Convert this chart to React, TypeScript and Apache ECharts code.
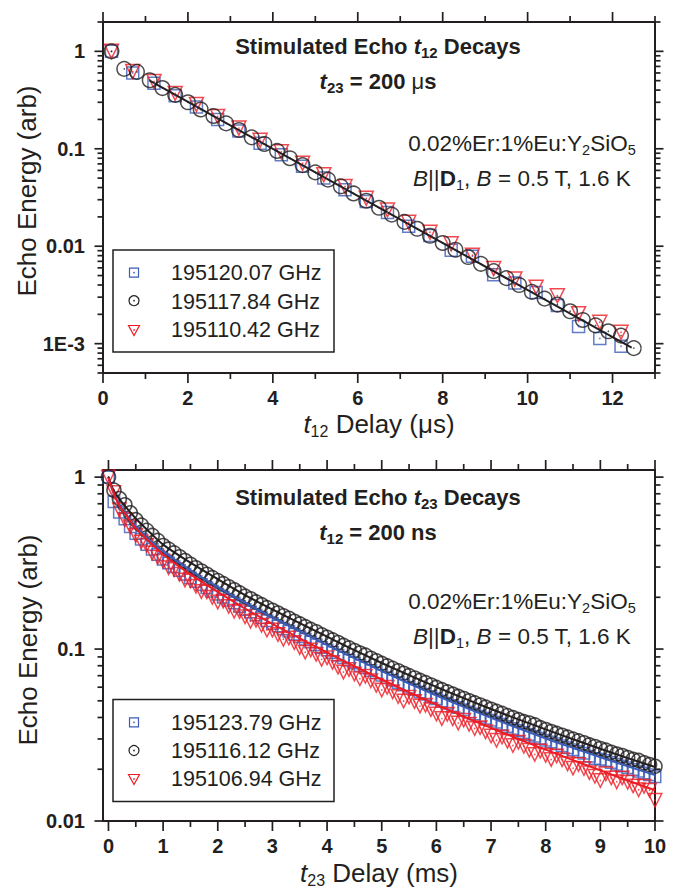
import React, { useEffect, useRef } from 'react';
import * as echarts from 'echarts';

// ---- upper panel: echo energy vs t12 delay (us), t23 = 200 us ----
const t12Circle = [0.2, 0.5, 0.8, 1.1, 1.4, 1.7, 2.0, 2.3, 2.6, 2.9, 3.2, 3.5, 3.8, 4.1, 4.4, 4.7, 5.0, 5.3, 5.6, 5.9, 6.2, 6.5, 6.8, 7.1, 7.4, 7.7, 8.0, 8.3, 8.6, 8.9, 9.2, 9.5, 9.8, 10.1, 10.4, 10.7, 11.0, 11.3, 11.6, 11.9, 12.2, 12.5];
const e12Circle = [1.0, 0.66, 0.615, 0.505, 0.42, 0.358, 0.30, 0.253, 0.217, 0.182, 0.156, 0.131, 0.112, 0.095, 0.080, 0.068, 0.0572, 0.0482, 0.0412, 0.0348, 0.0293, 0.0248, 0.0211, 0.0178, 0.0151, 0.0128, 0.0108, 0.0092, 0.00775, 0.0066, 0.00555, 0.0047, 0.0040, 0.0034, 0.0029, 0.00252, 0.00215, 0.00175, 0.00154, 0.00134, 0.00121, 0.00090];
const t12SqTri = [0.2, 0.7, 1.2, 1.7, 2.2, 2.7, 3.2, 3.7, 4.2, 4.7, 5.2, 5.7, 6.2, 6.7, 7.2, 7.7, 8.2, 8.7, 9.2, 9.7, 10.2, 10.7, 11.2, 11.7, 12.2];
const e12Square = [1.0, 0.60, 0.47, 0.35, 0.268, 0.20, 0.152, 0.114, 0.087, 0.066, 0.050, 0.038, 0.0288, 0.0222, 0.0160, 0.0129, 0.0091, 0.0079, 0.0051, 0.0042, 0.00335, 0.00247, 0.00150, 0.00113, 0.00094];
const e12Triangle = [1.0, 0.62, 0.49, 0.37, 0.285, 0.215, 0.163, 0.122, 0.093, 0.071, 0.054, 0.041, 0.031, 0.0236, 0.0176, 0.0139, 0.0106, 0.0081, 0.0059, 0.0046, 0.0038, 0.0031, 0.00203, 0.00166, 0.00131];
const fit12T = [1.1, 12.45];
const fit12E = [0.50, 0.00091];
const legend12 = ['195120.07 GHz', '195117.84 GHz', '195110.42 GHz'];

// ---- lower panel: echo energy vs t23 delay (ms), t12 = 200 ns ----
const t23 = [
  0, 0.1, 0.2, 0.3, 0.4, 0.5, 0.6, 0.7, 0.8, 0.9,
  1.0, 1.1, 1.2, 1.3, 1.4, 1.5, 1.6, 1.7, 1.8, 1.9,
  2.0, 2.1, 2.2, 2.3, 2.4, 2.5, 2.6, 2.7, 2.8, 2.9,
  3.0, 3.1, 3.2, 3.3, 3.4, 3.5, 3.6, 3.7, 3.8, 3.9,
  4.0, 4.1, 4.2, 4.3, 4.4, 4.5, 4.6, 4.7, 4.8, 4.9,
  5.0, 5.1, 5.2, 5.3, 5.4, 5.5, 5.6, 5.7, 5.8, 5.9,
  6.0, 6.1, 6.2, 6.3, 6.4, 6.5, 6.6, 6.7, 6.8, 6.9,
  7.0, 7.1, 7.2, 7.3, 7.4, 7.5, 7.6, 7.7, 7.8, 7.9,
  8.0, 8.1, 8.2, 8.3, 8.4, 8.5, 8.6, 8.7, 8.8, 8.9,
  9.0, 9.1, 9.2, 9.3, 9.4, 9.5, 9.6, 9.7, 9.8, 9.9,
  10.0,
];
const e23Circle = [
  1.0, 0.84, 0.75, 0.69, 0.62, 0.565, 0.525, 0.49, 0.458, 0.428,
  0.40, 0.381, 0.362, 0.344, 0.327, 0.311, 0.297, 0.284, 0.272, 0.260,
  0.250, 0.240, 0.230, 0.221, 0.212, 0.203, 0.196, 0.188, 0.181, 0.174,
  0.168, 0.162, 0.156, 0.151, 0.145, 0.140, 0.135, 0.130, 0.126, 0.121,
  0.117, 0.113, 0.109, 0.105, 0.1015, 0.098, 0.0947, 0.0921, 0.0884, 0.0854,
  0.0825, 0.0798, 0.0772, 0.0747, 0.0723, 0.0700, 0.0678, 0.0657, 0.0637, 0.0617,
  0.0598, 0.0580, 0.0563, 0.0546, 0.0530, 0.0515, 0.0500, 0.0486, 0.0472, 0.0459,
  0.0446, 0.0434, 0.0422, 0.0410, 0.0399, 0.0388, 0.0378, 0.0371, 0.0362, 0.0349,
  0.0340, 0.0331, 0.0323, 0.0315, 0.0307, 0.0299, 0.0292, 0.0285, 0.0277, 0.0271,
  0.0264, 0.0258, 0.0251, 0.0245, 0.0240, 0.0234, 0.0228, 0.0225, 0.0218, 0.0213,
  0.0208,
];
const e23Square = [
  1.0, 0.72, 0.625, 0.57, 0.515, 0.47, 0.435, 0.405, 0.38, 0.355,
  0.333, 0.317, 0.301, 0.286, 0.272, 0.259, 0.247, 0.237, 0.227, 0.217,
  0.208, 0.200, 0.192, 0.185, 0.177, 0.170, 0.164, 0.158, 0.152, 0.146,
  0.141, 0.136, 0.131, 0.127, 0.122, 0.118, 0.114, 0.110, 0.106, 0.102,
  0.0988, 0.0955, 0.0921, 0.0889, 0.0860, 0.0831, 0.0803, 0.0778, 0.0751, 0.0727,
  0.0703, 0.0680, 0.0659, 0.0638, 0.0618, 0.0599, 0.0581, 0.0563, 0.0546, 0.0530,
  0.0514, 0.0499, 0.0484, 0.0470, 0.0457, 0.0444, 0.0431, 0.0419, 0.0407, 0.0396,
  0.0385, 0.0375, 0.0365, 0.0355, 0.0345, 0.0336, 0.0327, 0.0319, 0.0311, 0.0303,
  0.0295, 0.0288, 0.0281, 0.0274, 0.0267, 0.0260, 0.0254, 0.0248, 0.0238, 0.0231,
  0.0229, 0.0225, 0.0219, 0.0214, 0.0209, 0.0204, 0.0199, 0.0195, 0.0190, 0.0186,
  0.0181,
];
const e23Triangle = [
  1.0, 0.815, 0.645, 0.566, 0.515, 0.458, 0.42, 0.402, 0.362, 0.342,
  0.324, 0.297, 0.290, 0.272, 0.252, 0.249, 0.232, 0.216, 0.215, 0.200,
  0.1875, 0.190, 0.177, 0.166, 0.165, 0.154, 0.145, 0.147, 0.1375, 0.129,
  0.129, 0.1215, 0.114, 0.116, 0.109, 0.102, 0.0959, 0.0988, 0.0932, 0.0871,
  0.0889, 0.0836, 0.0785, 0.0735, 0.0761, 0.0715, 0.0672, 0.0695, 0.0654, 0.0615,
  0.0578, 0.0599, 0.0564, 0.0530, 0.0499, 0.0525, 0.0495, 0.0466, 0.0471, 0.0444,
  0.0419, 0.0394, 0.0417, 0.0393, 0.0371, 0.0386, 0.0365, 0.0345, 0.0349, 0.0330,
  0.0312, 0.0295, 0.0308, 0.0291, 0.0275, 0.0287, 0.0272, 0.0258, 0.0244, 0.0255,
  0.0241, 0.0228, 0.0239, 0.0227, 0.0215, 0.0203, 0.0213, 0.0202, 0.0191, 0.0182,
  0.0172, 0.0188, 0.0178, 0.0169, 0.0178, 0.0168, 0.0160, 0.0152, 0.0159, 0.0151,
  0.0132,
];
const fit23T = [0, 0.05, 0.1, 0.2, 0.3, 0.5, 0.75, 1, 1.5, 2, 2.5, 3, 3.5, 4, 4.5, 5, 5.5, 6, 6.5, 7, 7.5, 8, 8.5, 9, 9.5, 10];
const fit23Black = [1.0, 0.90, 0.83, 0.745, 0.68, 0.575, 0.48, 0.405, 0.318, 0.255, 0.206, 0.170, 0.1415, 0.118, 0.0985, 0.0830, 0.0705, 0.0602, 0.0518, 0.0448, 0.0390, 0.0341, 0.0299, 0.0263, 0.0232, 0.0206];
const fit23Blue = [1.0, 0.88, 0.80, 0.69, 0.625, 0.515, 0.43, 0.37, 0.287, 0.229, 0.186, 0.153, 0.127, 0.1055, 0.0885, 0.0745, 0.063, 0.0537, 0.0461, 0.0398, 0.0346, 0.0302, 0.0266, 0.0235, 0.0208, 0.0185];
const fit23Red = [1.0, 0.88, 0.80, 0.68, 0.615, 0.505, 0.42, 0.355, 0.272, 0.215, 0.172, 0.140, 0.1155, 0.0955, 0.0795, 0.0665, 0.056, 0.0475, 0.0405, 0.0348, 0.0300, 0.0260, 0.0226, 0.0197, 0.0172, 0.0151];
const legend23 = ['195123.79 GHz', '195116.12 GHz', '195106.94 GHz'];

// ---- axis ticks and labels ----
const xLabelsTop = [0, 2, 4, 6, 8, 10, 12];
const xMinorTop = [1, 3, 5, 7, 9, 11, 13];
const xLabelsBottom = [0, 1, 2, 3, 4, 5, 6, 7, 8, 9, 10];
const xMinorBottom = [0.5, 1.5, 2.5, 3.5, 4.5, 5.5, 6.5, 7.5, 8.5, 9.5];
const yMajorTop = [0.001, 0.01, 0.1, 1];
const yMajorBottom = [0.01, 0.1, 1];
const decadeLabels: Record<string, string> = { '-3': '1E-3', '-2': '0.01', '-1': '0.1', '0': '1' };
const mantissas = [2, 3, 4, 5, 6, 7, 8, 9];

const INK = '#231f20';
const BLUE = '#3b5cb8';
const RED = '#ed1c24';
const SANS = '"Liberation Sans", Arial, Helvetica, sans-serif';

function minorLogTicks(lo: number, hi: number) {
  const out: number[] = [];
  for (let e = Math.floor(Math.log10(lo)); e <= Math.ceil(Math.log10(hi)); e++) {
    for (const m of mantissas) {
      const v = m * Math.pow(10, e);
      if (v >= lo * 0.999 && v <= hi * 1.001) out.push(v);
    }
  }
  return out;
}

const pts = (xs: number[], ys: number[]) => xs.map((x, i) => [x, ys[i]]);

function logLabel(v: number) {
  const e = Math.log10(v);
  const r = Math.round(e);
  if (Math.abs(e - r) > 1e-6) return '';
  return decadeLabels[String(r)] ?? '';
}

function markSeries(grid: number, xs: number[], ys: number[], symbol: string, size: number, color: string, rotate = 0, bw = 1.5) {
  return [
    {
      type: 'scatter', xAxisIndex: grid, yAxisIndex: grid, data: pts(xs, ys),
      symbol, symbolSize: size, symbolRotate: rotate, silent: true, z: 3,
      emphasis: { disabled: true },
      itemStyle: { color: 'rgba(0,0,0,0)', borderColor: color, borderWidth: bw },
    },
    {
      type: 'scatter', xAxisIndex: grid, yAxisIndex: grid, data: pts(xs, ys),
      symbol: 'circle', symbolSize: 1.6, silent: true, z: 6,
      emphasis: { disabled: true },
      itemStyle: { color },
    },
  ];
}

function lineSeries(grid: number, xs: number[], ys: number[], color: string, smooth: boolean | number, z = 5) {
  return {
    type: 'line', xAxisIndex: grid, yAxisIndex: grid, data: pts(xs, ys),
    showSymbol: false, smooth, silent: true, z,
    lineStyle: { color, width: 2 },
    emphasis: { disabled: true },
  };
}

// frame ticks on all four sides, drawn through the axes' own coordinate mapping
function tickSeries(grid: number, xMajor: number[], xMinor: number[], yMajor: number[], yMinor: number[]) {
  const data = [
    ...xMajor.map((v) => [v, 1, 0]),
    ...xMinor.map((v) => [v, 1, 1]),
    ...yMajor.map((v) => [1, v, 2]),
    ...yMinor.map((v) => [1, v, 3]),
  ];
  return {
    type: 'custom', xAxisIndex: grid, yAxisIndex: grid, silent: true, z: 7,
    dimensions: ['x', 'y', 'k'], encode: { x: 0, y: 1 },
    data,
    renderItem: (params: any, api: any) => {
      const kind = api.value(2);
      const cs = params.coordSys;
      const p = api.coord([api.value(0), api.value(1)]);
      const st = { stroke: INK, lineWidth: 1.7 };
      if (kind < 2) {
        const len = kind === 0 ? 10 : 6;
        const b = cs.y + cs.height;
        return {
          type: 'group', children: [
            { type: 'line', shape: { x1: p[0], y1: b, x2: p[0], y2: b + len }, style: st },
            { type: 'line', shape: { x1: p[0], y1: cs.y, x2: p[0], y2: cs.y - len }, style: st },
          ],
        };
      }
      const len = kind === 2 ? 8.5 : 5.5;
      const r = cs.x + cs.width;
      return {
        type: 'group', children: [
          { type: 'line', shape: { x1: cs.x - len, y1: p[1], x2: cs.x, y2: p[1] }, style: st },
          { type: 'line', shape: { x1: r, y1: p[1], x2: r + len, y2: p[1] }, style: st },
        ],
      };
    },
  };
}

const labelStyle = { fontFamily: SANS, fontWeight: 'bold', fontSize: 20, color: INK };

function xAxis(grid: number, min: number, max: number, labels: number[]) {
  return {
    type: 'value', gridIndex: grid, min, max,
    axisLine: { show: false }, axisTick: { show: false }, splitLine: { show: false },
    axisLabel: { ...labelStyle, margin: 15, customValues: labels, formatter: (v: number) => String(v) },
  };
}

function yAxis(grid: number, min: number, max: number, showMin: boolean) {
  return {
    type: 'log', logBase: 10, gridIndex: grid, min, max,
    axisLine: { show: false }, axisTick: { show: false }, splitLine: { show: false }, minorSplitLine: { show: false },
    axisLabel: { ...labelStyle, margin: 18, formatter: logLabel, showMinLabel: showMin, showMaxLabel: false },
  };
}

// rich text styles (zrender)
const boldTok = { fontFamily: SANS, fontSize: 22, fontWeight: 'bold', fill: INK, lineHeight: 28 };
const titleRich = {
  b: boldTok,
  bi: { ...boldTok, fontStyle: 'italic' },
  bs: { fontFamily: SANS, fontSize: 15, fontWeight: 'bold', fill: INK, lineHeight: 9, verticalAlign: 'bottom' },
  mu: { fontFamily: SANS, fontSize: 22, fontWeight: 'normal', fill: INK, lineHeight: 28 },
};
const regTok = { fontFamily: SANS, fontSize: 22.5, fill: INK, lineHeight: 28 };
const materialRich = {
  r: regTok,
  i: { ...regTok, fontStyle: 'italic' },
  bd: { ...regTok, fontWeight: 'bold' },
  s: { fontFamily: SANS, fontSize: 14.5, fill: INK, lineHeight: 9, verticalAlign: 'bottom' },
};
const axisTok = { fontFamily: SANS, fontSize: 26, fill: INK, lineHeight: 31 };
const axisRich = {
  r: axisTok,
  i: { ...axisTok, fontStyle: 'italic' },
  s: { fontFamily: SANS, fontSize: 16, fill: INK, lineHeight: 8, verticalAlign: 'bottom' },
};

function richText(x: number, y: number, text: string, rich: any, rotation = 0) {
  return {
    type: 'text', x, y, rotation, z: 20, silent: true,
    style: { text, rich, align: 'center', verticalAlign: 'middle', textAlign: 'center', textVerticalAlign: 'middle' },
  };
}

function legendBox(top: number, rows: number[], labels: string[]) {
  const mx = 134;
  const dot = (cy: number, color: string) => ({ type: 'circle', shape: { cx: mx, cy, r: 0.8 }, style: { fill: color } });
  const text = (cy: number, t: string) => ({
    type: 'text', x: 171, y: cy,
    style: { text: t, fontFamily: SANS, fontSize: 21.5, fill: INK, align: 'left', verticalAlign: 'middle', textAlign: 'left', textVerticalAlign: 'middle' },
  });
  return {
    type: 'group', z: 15, silent: true,
    children: [
      { type: 'rect', shape: { x: 113, y: top, width: 221, height: 102 }, style: { fill: '#fff', stroke: INK, lineWidth: 1.5 } },
      { type: 'rect', shape: { x: mx - 4.5, y: rows[0] - 4.5, width: 9, height: 9 }, style: { fill: 'none', stroke: BLUE, lineWidth: 1.2 } },
      dot(rows[0], BLUE),
      { type: 'circle', shape: { cx: mx, cy: rows[1], r: 5 }, style: { fill: 'none', stroke: INK, lineWidth: 1.2 } },
      dot(rows[1], INK),
      { type: 'polygon', shape: { points: [[mx - 5.5, rows[2] - 4.5], [mx + 5.5, rows[2] - 4.5], [mx, rows[2] + 5.5]] }, style: { fill: 'none', stroke: RED, lineWidth: 1.2 } },
      dot(rows[2], RED),
      text(rows[0] + 0.5, labels[0]),
      text(rows[1] + 0.8, labels[1]),
      text(rows[2], labels[2]),
    ],
  };
}

function buildOption() {
  const gridBox = { show: true, borderColor: INK, borderWidth: 2, backgroundColor: 'rgba(0,0,0,0)' };
  return {
    animation: false,
    backgroundColor: '#ffffff',
    grid: [
      { left: 103, top: 22, width: 552, height: 351, ...gridBox },
      { left: 103, top: 470, width: 552, height: 351, ...gridBox },
    ],
    xAxis: [xAxis(0, 0, 13, xLabelsTop), xAxis(1, -0.1, 10, xLabelsBottom)],
    yAxis: [yAxis(0, 0.0005, 2, false), yAxis(1, 0.01, 1.1, true)],
    series: [
      ...markSeries(0, t12SqTri, e12Square, 'rect', 12, BLUE),
      ...markSeries(0, t12SqTri, e12Triangle, 'triangle', 14, RED, 180),
      ...markSeries(0, t12Circle, e12Circle, 'circle', 14.5, INK),
      lineSeries(0, fit12T, fit12E, INK, false),

      ...markSeries(1, t23, e23Square, 'rect', 11.5, BLUE, 0, 1.5),
      ...markSeries(1, t23, e23Triangle, 'triangle', 13.5, RED, 180, 1.5),
      ...markSeries(1, t23, e23Circle, 'circle', 14, INK, 0, 1.6),
      lineSeries(1, fit23T, fit23Black, INK, 0.3),
      lineSeries(1, fit23T, fit23Blue, BLUE, 0.3),
      lineSeries(1, fit23T, fit23Red, RED, 0.3),

      tickSeries(0, xLabelsTop, xMinorTop, yMajorTop, minorLogTicks(0.0005, 2)),
      tickSeries(1, xLabelsBottom, xMinorBottom, yMajorBottom, minorLogTicks(0.01, 1.1)),
    ],
    graphic: [
      richText(378, 46, '{b|Stimulated Echo }{bi|t}{bs|12}{b| Decays}', titleRich),
      richText(378, 81, '{bi|t}{bs|23}{b| = 200 }{mu|\u03bc}{b|s}', titleRich),
      richText(522, 143.5, '{r|0.02%Er:1%Eu:Y}{s|2}{r|SiO}{s|5}', materialRich),
      richText(522, 178, '{i|B}{r|||}{bd|D}{s|1}{r|, }{i|B}{r| = 0.5 T, 1.6 K}', materialRich),
      richText(378, 497, '{b|Stimulated Echo }{bi|t}{bs|23}{b| Decays}', titleRich),
      richText(378, 532, '{bi|t}{bs|12}{b| = 200 ns}', titleRich),
      richText(522, 601.5, '{r|0.02%Er:1%Eu:Y}{s|2}{r|SiO}{s|5}', materialRich),
      richText(522, 636, '{i|B}{r|||}{bd|D}{s|1}{r|, }{i|B}{r| = 0.5 T, 1.6 K}', materialRich),
      richText(379, 424, '{i|t}{s|12}{r| Delay (\u03bcs)}', axisRich),
      richText(379, 873, '{i|t}{s|23}{r| Delay (ms)}', axisRich),
      richText(27, 191, '{r|Echo Energy (arb)}', axisRich, Math.PI / 2),
      richText(28, 640, '{r|Echo Energy (arb)}', axisRich, Math.PI / 2),
      legendBox(250, [272.7, 300.7, 330], legend12),
      legendBox(699.5, [722.3, 750.5, 779], legend23),
    ],
  };
}

export default function App() {
  const ref = useRef<HTMLDivElement>(null);
  useEffect(() => {
    if (!ref.current) return;
    const chart = echarts.init(ref.current, null, { renderer: 'svg' });
    chart.setOption(buildOption() as any);
    return () => chart.dispose();
  }, []);
  return (
    <div
      ref={ref}
      style={{ position: 'fixed', left: 0, top: 0, width: 675, height: 891, background: '#fff' }}
    />
  );
}
